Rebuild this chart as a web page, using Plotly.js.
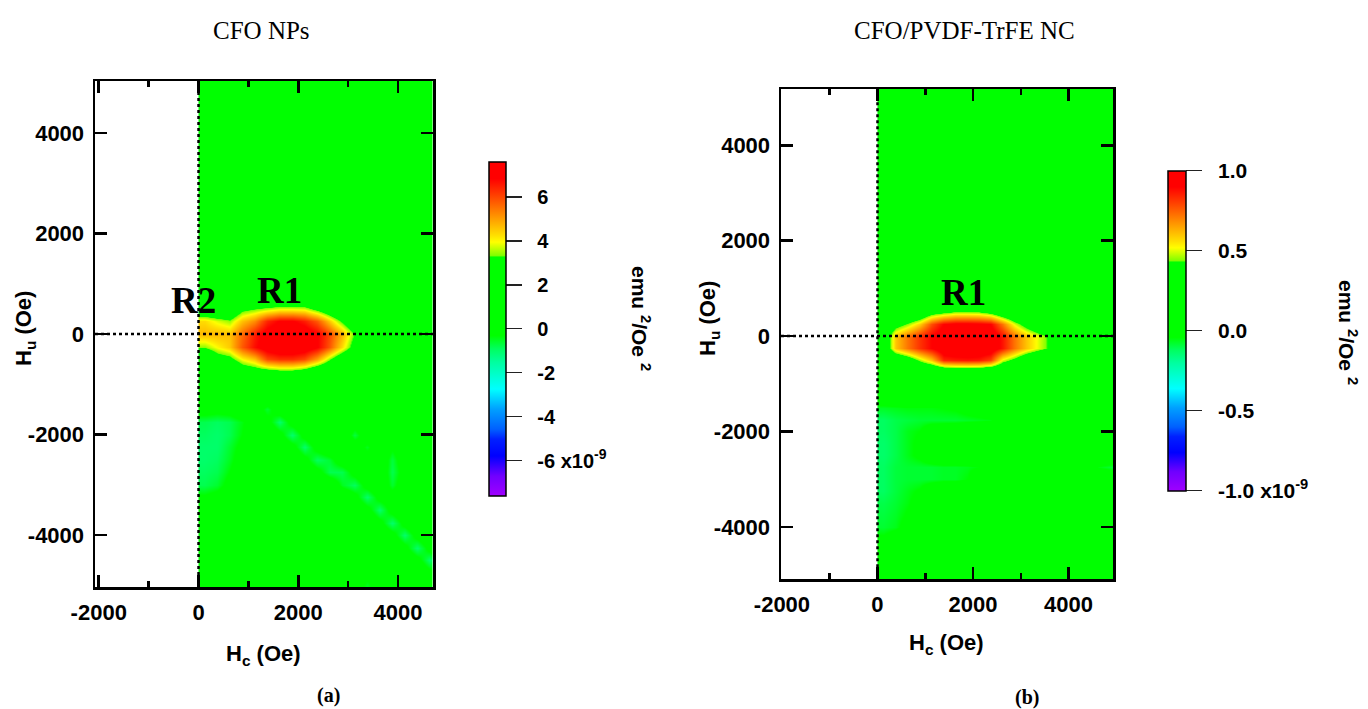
<!DOCTYPE html>
<html>
<head>
<meta charset="utf-8">
<script src="https://cdn.plot.ly/plotly-3.0.1.min.js"></script>
<style>html,body{margin:0;padding:0;background:#fff;}#chart{width:1368px;height:709px;}</style>
</head>
<body>
<div id="chart"></div>
<script>
// Hc cell edges (Oe) – data exist only for Hc >= 0
const hcEdges = [0,250,500,750,1000,1250,1500,1750,2000,2250,2500,2750,3000,3250,3500,3750,4000,4250,4500,4750,5000];
// Hu row centres (Oe)
const huRows = [-5000,-4750,-4500,-4250,-4000,-3750,-3500,-3250,-3000,-2750,-2500,-2250,-2000,-1750,-1500,-1250,
                -1000,-750,-500,-250,0,250,500,750,1000,1500,2000,3000,4000,5000];

// FORC distribution, CFO NPs (x1e-9 emu^2/Oe^2), rows bottom -> top
const forcNPs = [
  [0.5,0.5,0.5,0.5,0.5,0.5,0.5,0.5,0.5,0.5,0.5,0.5,0.3,-0.5,0.3,0.5,0.5,0.5,0.5,0.0],
  [0.5,0.5,0.5,0.5,0.5,0.5,0.5,0.5,0.5,0.5,0.5,0.5,0.5,0.0,0.5,0.5,0.5,0.5,0.0,-0.9],
  [0.5,0.5,0.5,0.5,0.5,0.5,0.5,0.5,0.5,0.5,0.5,0.5,0.5,0.5,0.5,0.5,0.5,0.0,-1.0,0.0],
  [0.5,0.5,0.5,0.5,0.5,0.5,0.5,0.5,0.5,0.5,0.5,0.5,0.5,0.5,0.5,0.5,0.0,-1.0,0.0,0.5],
  [0.5,0.5,0.5,0.5,0.5,0.5,0.5,0.5,0.5,0.5,0.5,0.5,0.5,0.5,0.5,0.0,-1.0,0.0,0.5,0.5],
  [0.5,0.5,0.5,0.5,0.5,0.5,0.5,0.5,0.5,0.5,0.5,0.5,0.5,0.5,0.0,-1.0,0.0,0.5,0.5,0.5],
  [0.4,0.5,0.5,0.5,0.5,0.5,0.5,0.5,0.5,0.5,0.5,0.5,0.5,0.0,-1.0,0.0,0.5,0.5,0.5,0.5],
  [-0.2,0.0,0.4,0.5,0.5,0.5,0.5,0.5,0.5,0.5,0.5,0.5,0.0,-1.0,0.0,0.1,0.5,0.5,0.5,0.0],
  [-0.8,-0.6,0.0,0.5,0.5,0.5,0.5,0.5,0.5,0.5,0.5,-0.5,-0.9,0.0,0.5,-0.6,0.3,0.5,0.5,0.5],
  [-0.9,-0.8,-0.3,0.3,0.5,0.5,0.5,0.5,0.5,0.0,-0.8,-0.8,0.0,0.5,0.5,-0.8,0.1,0.5,0.5,0.5],
  [-1.0,-0.9,-0.5,0.1,0.5,0.5,0.5,0.5,0.0,-0.9,-0.6,0.2,0.5,0.1,0.5,-0.7,0.3,0.5,0.5,0.5],
  [-1.0,-1.0,-0.6,-0.1,0.5,0.5,0.5,0.0,-1.0,0.0,0.5,0.5,0.3,-0.5,0.5,-0.2,0.5,0.5,0.5,0.5],
  [-0.9,-1.0,-0.8,-0.3,0.4,0.5,0.0,-1.0,0.0,0.5,0.5,0.5,-0.7,0.3,0.5,0.5,0.5,0.5,0.5,0.5],
  [-0.8,-0.9,-0.8,-0.4,0.3,0.0,-1.0,0.0,0.5,0.5,0.5,0.5,0.2,0.5,0.5,0.5,0.5,0.5,0.5,0.5],
  [0.1,0.0,0.1,0.4,0.3,-0.6,0.3,0.5,0.5,0.5,0.5,0.5,0.5,0.5,0.5,0.5,0.5,0.5,0.5,0.5],
  [0.5,0.5,0.5,0.5,0.5,0.5,0.5,0.5,0.5,0.5,0.5,0.5,0.5,0.5,0.5,0.5,0.5,0.5,0.5,0.5],
  [0.5,0.5,0.5,0.6,0.6,0.6,0.6,0.6,0.6,0.5,0.5,0.5,0.5,0.5,0.5,0.5,0.5,0.5,0.5,0.5],
  [0.5,0.6,0.8,2.2,2.4,2.5,2.8,2.8,2.4,1.6,1.0,0.6,0.5,0.5,0.5,0.5,0.5,0.5,0.5,0.5],
  [1.0,2.6,2.9,4.0,4.6,6.0,6.3,6.3,6.0,5.0,3.4,2.0,1.1,0.5,0.5,0.5,0.5,0.5,0.5,0.5],
  [3.4,4.0,4.5,5.8,6.7,7.3,7.6,7.6,7.4,6.9,5.8,4.3,2.6,0.8,0.5,0.5,0.5,0.5,0.5,0.5],
  [4.7,4.7,4.6,5.6,6.5,7.2,7.5,7.5,7.4,6.9,6.0,4.8,3.2,0.9,0.5,0.5,0.5,0.5,0.5,0.5],
  [4.3,3.8,3.45,4.6,5.2,6.4,6.9,6.9,6.5,5.8,4.5,3.1,1.5,0.6,0.5,0.5,0.5,0.5,0.5,0.5],
  [1.7,1.6,1.5,3.0,3.3,3.6,3.9,3.9,3.8,3.0,2.0,1.2,0.7,0.5,0.5,0.5,0.5,0.5,0.5,0.5],
  [0.7,0.6,0.6,0.8,0.9,0.9,0.9,0.9,0.9,0.7,0.6,0.5,0.5,0.5,0.5,0.5,0.5,0.5,0.5,0.5],
  [0.5,0.5,0.5,0.5,0.5,0.5,0.5,0.5,0.5,0.5,0.5,0.5,0.5,0.5,0.5,0.5,0.5,0.5,0.5,0.5],
  [0.5,0.5,0.5,0.5,0.5,0.5,0.5,0.5,0.5,0.5,0.5,0.5,0.5,0.5,0.5,0.5,0.5,0.5,0.5,0.5],
  [0.5,0.5,0.5,0.5,0.5,0.5,0.5,0.5,0.5,0.5,0.5,0.5,0.5,0.5,0.5,0.5,0.5,0.5,0.5,0.5],
  [0.5,0.5,0.5,0.5,0.5,0.5,0.5,0.5,0.5,0.5,0.5,0.5,0.5,0.5,0.5,0.5,0.5,0.5,0.5,0.5],
  [0.5,0.5,0.5,0.5,0.5,0.5,0.5,0.5,0.5,0.5,0.5,0.5,0.5,0.5,0.5,0.5,0.5,0.5,0.5,0.5],
  [0.5,0.5,0.5,0.5,0.5,0.5,0.5,0.5,0.5,0.5,0.5,0.5,0.5,0.5,0.5,0.5,0.5,0.5,0.5,0.5]
];

// FORC distribution, CFO/PVDF-TrFE NC (x1e-9 emu^2/Oe^2), rows bottom -> top
const forcNC = [
  [0.1,0.1,0.1,0.1,0.1,0.1,0.1,0.1,0.1,0.1,0.1,0.1,0.1,0.1,0.1,0.1,0.1,0.1,0.1,0.1],
  [0.1,0.1,0.1,0.1,0.1,0.1,0.1,0.1,0.1,0.1,0.1,0.1,0.1,0.1,0.1,0.1,0.1,0.1,0.1,0.1],
  [0.06,0.08,0.1,0.1,0.1,0.1,0.1,0.1,0.1,0.1,0.1,0.1,0.1,0.1,0.1,0.1,0.1,0.1,0.1,0.1],
  [-0.02,0.03,0.1,0.1,0.1,0.1,0.1,0.1,0.1,0.1,0.1,0.1,0.1,0.1,0.1,0.1,0.1,0.1,0.1,0.1],
  [-0.08,-0.06,0.0,0.08,0.1,0.1,0.1,0.1,0.1,0.1,0.1,0.1,0.1,0.1,0.1,0.1,0.1,0.1,0.1,0.1],
  [-0.09,-0.07,-0.03,0.05,0.1,0.1,0.1,0.1,0.1,0.1,0.1,0.1,0.1,0.1,0.1,0.1,0.1,0.1,0.1,0.1],
  [-0.1,-0.08,-0.05,0.0,0.1,0.1,0.1,0.1,0.1,0.1,0.1,0.1,0.1,0.1,0.1,0.1,0.1,0.1,0.1,0.1],
  [-0.12,-0.09,-0.06,-0.03,0.06,0.1,0.1,0.1,0.1,0.1,0.1,0.1,0.1,0.1,0.1,0.1,0.1,0.1,0.1,0.1],
  [-0.12,-0.09,-0.08,-0.08,-0.08,-0.07,-0.07,-0.04,0.08,0.1,0.1,0.1,0.1,0.1,0.1,0.1,0.1,0.1,0.1,0.1],
  [-0.12,-0.09,-0.08,-0.08,-0.08,-0.07,-0.07,-0.06,-0.04,0.08,0.1,0.1,0.1,0.1,0.1,0.1,0.1,0.1,-0.05,-0.08],
  [-0.13,-0.1,-0.06,-0.02,0.06,0.1,0.1,0.1,0.1,0.1,0.1,0.1,0.1,0.1,0.1,0.1,0.1,0.1,0.1,0.1],
  [-0.13,-0.1,-0.06,-0.02,0.06,0.1,0.1,0.1,0.1,0.1,0.1,0.1,0.1,0.1,0.1,0.1,0.1,0.1,0.1,0.1],
  [-0.12,-0.1,-0.06,-0.04,0.04,0.06,0.08,0.1,0.1,0.1,0.1,0.1,0.1,0.1,0.1,0.1,0.1,0.1,0.1,0.1],
  [-0.12,-0.1,-0.09,-0.08,-0.08,-0.08,-0.08,-0.07,-0.06,-0.05,0.06,0.1,0.1,0.1,0.1,0.1,0.1,0.1,0.1,0.1],
  [-0.07,-0.06,-0.05,-0.05,-0.05,-0.04,-0.03,0.0,0.02,0.06,0.1,0.1,0.1,0.1,0.1,0.1,0.1,0.1,0.1,0.1],
  [0.06,0.08,0.1,0.1,0.1,0.1,0.1,0.1,0.1,0.1,0.1,0.1,0.1,0.1,0.1,0.1,0.1,0.1,0.1,0.1],
  [0.1,0.1,0.1,0.1,0.1,0.1,0.1,0.1,0.1,0.1,0.1,0.1,0.1,0.1,0.1,0.1,0.1,0.1,0.1,0.1],
  [0.1,0.1,0.1,0.12,0.12,0.15,0.18,0.18,0.17,0.13,0.1,0.1,0.1,0.1,0.1,0.1,0.1,0.1,0.1,0.1],
  [0.12,0.2,0.3,0.46,0.6,0.84,0.86,0.87,0.86,0.8,0.5,0.38,0.22,0.12,0.12,0.1,0.1,0.1,0.1,0.1],
  [0.25,0.6,0.72,0.82,0.9,0.98,1.0,1.0,1.0,0.98,0.87,0.72,0.6,0.5,0.4,0.15,0.1,0.1,0.1,0.1],
  [0.25,0.6,0.72,0.82,0.9,0.97,1.0,1.0,1.0,0.98,0.87,0.72,0.6,0.5,0.4,0.15,0.1,0.1,0.1,0.1],
  [0.15,0.35,0.45,0.58,0.78,0.9,0.93,0.93,0.92,0.9,0.72,0.5,0.35,0.22,0.15,0.1,0.1,0.1,0.1,0.1],
  [0.1,0.12,0.15,0.2,0.35,0.4,0.45,0.45,0.44,0.38,0.25,0.15,0.12,0.1,0.1,0.1,0.1,0.1,0.1,0.1],
  [0.1,0.1,0.1,0.1,0.1,0.12,0.12,0.12,0.12,0.1,0.1,0.1,0.1,0.1,0.1,0.1,0.1,0.1,0.1,0.1],
  [0.1,0.1,0.1,0.1,0.1,0.1,0.1,0.1,0.1,0.1,0.1,0.1,0.1,0.1,0.1,0.1,0.1,0.1,0.1,0.1],
  [0.1,0.1,0.1,0.1,0.1,0.1,0.1,0.1,0.1,0.1,0.1,0.1,0.1,0.1,0.1,0.1,0.1,0.1,0.1,0.1],
  [0.1,0.1,0.1,0.1,0.1,0.1,0.1,0.1,0.1,0.1,0.1,0.1,0.1,0.1,0.1,0.1,0.1,0.1,0.1,0.1],
  [0.1,0.1,0.1,0.1,0.1,0.1,0.1,0.1,0.1,0.1,0.1,0.1,0.1,0.1,0.1,0.1,0.1,0.1,0.1,0.1],
  [0.1,0.1,0.1,0.1,0.1,0.1,0.1,0.1,0.1,0.1,0.1,0.1,0.1,0.1,0.1,0.1,0.1,0.1,0.1,0.1],
  [0.1,0.1,0.1,0.1,0.1,0.1,0.1,0.1,0.1,0.1,0.1,0.1,0.1,0.1,0.1,0.1,0.1,0.1,0.1,0.1]
];

const axisTickVals = [-4000,-2000,0,2000,4000];
const axisTickText = ['-4000','-2000','0','2000','4000'];
const xTickVals = [-2000,0,2000,4000];
const xTickText = ['-2000','0','2000','4000'];
const cbNPsVals = [-6,-4,-2,0,2,4,6];
const cbNPsText = ['-6 x10<sup>-9</sup>','-4','-2','0','2','4','6'];
const cbNCVals = [-1,-0.5,0,0.5,1];
const cbNCText = ['-1.0 x10<sup>-9</sup>','-0.5','0.0','0.5','1.0'];

const W = 1368, H = 709;
const px = v => v / W;
const py = v => 1 - v / H;
const NB = '\u00a0\u00a0';

const rainbow = [
  [0.00,'#a000ff'],[0.06,'#7000ff'],[0.12,'#0000ff'],[0.17,'#0020ff'],[0.20,'#0060ff'],
  [0.26,'#00a0ff'],[0.32,'#00ffff'],[0.40,'#00ffa0'],[0.44,'#00ff60'],[0.48,'#00ff00'],
  [0.715,'#00ff00'],[0.72,'#80ff00'],[0.76,'#ffff00'],[0.78,'#ffe000'],[0.84,'#ff9000'],
  [0.90,'#ff4000'],[0.95,'#ff0000'],[1.00,'#ff0000']
];

const sansBold = (size) => ({family:'Liberation Sans, Arial, sans-serif', size:size, color:'#000', weight:'bold'});

function cb(xLeft, yTop, yBot, thick, vals, text, fsize){
  return {
    x: px(xLeft), xanchor:'left', xpad:0, ypad:0,
    y: py((yTop+yBot)/2), yanchor:'middle',
    len: yBot-yTop, lenmode:'pixels', thickness: thick, thicknessmode:'pixels',
    outlinewidth:1.5, outlinecolor:'#000',
    ticks:'outside', ticklen:16, tickwidth:1.5, tickcolor:'#222',
    tickmode:'array', tickvals: vals, ticktext: text.map(t => NB + t),
    tickfont: sansBold(fsize)
  };
}

const data = [
  {type:'heatmap', x: hcEdges, y: huRows, z: forcNPs, xaxis:'x', yaxis:'y',
   zmin:-7.6, zmax:7.6, colorscale: rainbow, zsmooth:'best',
   colorbar: cb(489, 161.7, 495.7, 17, cbNPsVals, cbNPsText, 20)},
  {type:'heatmap', x: hcEdges, y: huRows, z: forcNC, xaxis:'x2', yaxis:'y2',
   zmin:-1, zmax:1, colorscale: rainbow, zsmooth:'best',
   colorbar: cb(1168, 170.7, 490.7, 18, cbNCVals, cbNCText, 21)}
];

function xax(d0, d1, range, anchor){
  return {domain:[px(d0), px(d1)], range: range, anchor: anchor,
    tickmode:'array', tickvals: xTickVals, ticktext: xTickText,
    ticks:'inside', ticklen:12, tickwidth:2.5, tickcolor:'#000',
    minor:{tickmode:'linear', tick0:0, dtick:1000, ticks:'inside', ticklen:6, tickwidth:2.5, tickcolor:'#000'},
    showline:true, linewidth:2.5, linecolor:'#000', mirror:'ticks',
    showgrid:false, zeroline:false, tickfont: sansBold(22), ticklabelstandoff:4};
}
function yax(d0, d1, range, anchor){
  return {domain:[py(d1), py(d0)], range: range, anchor: anchor,
    tickmode:'array', tickvals: axisTickVals, ticktext: axisTickText,
    ticks:'inside', ticklen:12, tickwidth:2.5, tickcolor:'#000',
    showline:true, linewidth:2.5, linecolor:'#000', mirror:'ticks',
    showgrid:false, zeroline:false, tickfont: sansBold(22), ticklabelstandoff:4};
}

const dotted = {color:'#000', width:2.5, dash:'dot'};
const shapes = [
  {type:'line', xref:'x domain', yref:'y', x0:0, x1:1, y0:0, y1:0, line:dotted},
  {type:'line', xref:'x', yref:'y domain', x0:0, x1:0, y0:0, y1:1, line:dotted},
  {type:'line', xref:'x2 domain', yref:'y2', x0:0, x1:1, y0:0, y1:0, line:dotted},
  {type:'line', xref:'x2', yref:'y2 domain', x0:0, x1:0, y0:0, y1:1, line:dotted}
];

function ann(x, y, text, font, extra){
  return Object.assign({xref:'paper', yref:'paper', x: px(x), y: py(y), text: text,
    showarrow:false, xanchor:'center', yanchor:'middle', font: font}, extra||{});
}
const serif = (size, bold) => ({family:'Liberation Serif, Times New Roman, serif', size:size, color:'#000', weight: bold?'bold':'normal'});

const annotations = [
  ann(261.5, 30, 'CFO NPs', serif(25)),
  ann(964, 30, 'CFO/PVDF-TrFE NC', serif(25)),
  ann(328, 695, '(a)', serif(20, true)),
  ann(1027, 697, '(b)', serif(20, true)),
  ann(193, 300, 'R2', serif(37, true)),
  ann(279, 290, 'R1', serif(37, true)),
  ann(963, 292, 'R1', serif(37, true)),
  ann(263.5, 655, 'H<sub>c</sub> (Oe)', sansBold(22)),
  ann(946.7, 644, 'H<sub>c</sub> (Oe)', sansBold(22)),
  ann(25, 329, 'H<sub>u</sub> (Oe)', sansBold(22), {textangle:-90}),
  ann(709, 319, 'H<sub>u</sub> (Oe)', sansBold(22), {textangle:-90}),
  ann(641, 318, 'emu <sup>2</sup>/Oe <sup>2</sup>', sansBold(21), {textangle:90}),
  ann(1348, 332, 'emu <sup>2</sup>/Oe <sup>2</sup>', sansBold(21), {textangle:90})
];

const layout = {
  width: W, height: H,
  margin:{l:0, r:0, t:0, b:0},
  paper_bgcolor:'#fff', plot_bgcolor:'#fff',
  showlegend:false,
  xaxis: xax(95, 433, [-2075, 4700], 'y'),
  yaxis: yax(81, 587, [-5030, 5030], 'x'),
  xaxis2: xax(781, 1113, [-2020, 4930], 'y2'),
  yaxis2: yax(89, 579.3, [-5100, 5180], 'x2'),
  shapes: shapes,
  annotations: annotations
};

Plotly.newPlot('chart', data, layout, {displayModeBar:false, staticPlot:true});
</script>
</body>
</html>
